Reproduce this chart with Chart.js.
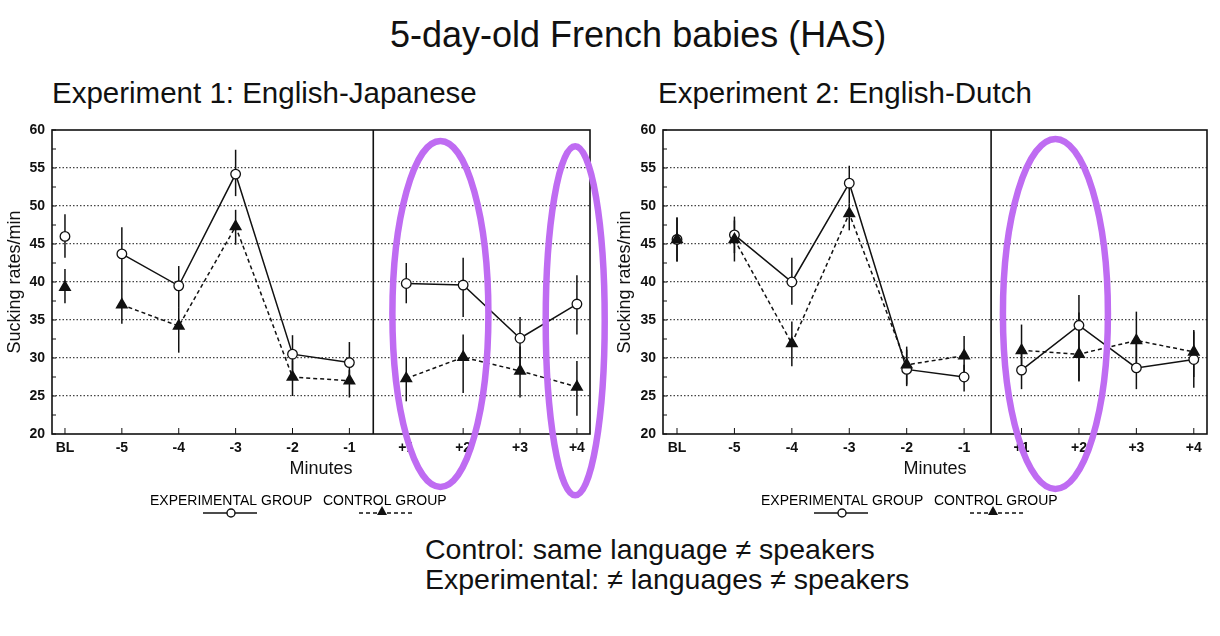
<!DOCTYPE html>
<html>
<head>
<meta charset="utf-8">
<script src="https://cdn.jsdelivr.net/npm/chart.js@4.4.1/dist/chart.umd.min.js"></script>
<style>
body { margin: 0; background: #fff; width: 1220px; height: 636px; overflow: hidden; position: relative; font-family: "Liberation Sans", Arial, sans-serif; color: #111; }
.txt { position: absolute; white-space: nowrap; line-height: 1; }
canvas { position: absolute; }
</style>
</head>
<body>
<div class="txt" style="left:390px;top:17px;font-size:36px">5-day-old French babies (HAS)</div>
<div class="txt" style="left:52px;top:78px;font-size:29.5px">Experiment 1: English-Japanese</div>
<div class="txt" style="left:658px;top:78px;font-size:29.5px">Experiment 2: English-Dutch</div>
<div class="txt" style="left:425px;top:535px;font-size:28.5px">Control: same language ≠ speakers</div>
<div class="txt" style="left:425px;top:565px;font-size:28.5px">Experimental: ≠ languages ≠ speakers</div>

<canvas id="chart1" width="620" height="420" style="left:0;top:110px"></canvas>
<canvas id="chart2" width="610" height="420" style="left:610px;top:110px"></canvas>

<script>
var minutes = ['BL', '-5', '-4', '-3', '-2', '-1', '+1', '+2', '+3', '+4'];

// Experiment 1: English-Japanese
var exp1Mean = [46.0, 43.7, 39.5, 54.2, 30.5, 29.4, 39.8, 39.6, 32.6, 37.1];
var exp1Low  = [43.2, 40.0, 36.7, 51.3, 28.0, 26.7, 37.2, 35.4, 28.8, 33.1];
var exp1High = [48.9, 47.2, 42.1, 57.4, 33.0, 32.1, 42.5, 43.2, 35.4, 40.9];
var ctl1Mean = [39.3, 37.0, 34.2, 47.3, 27.5, 27.0, 27.3, 30.1, 28.3, 26.2];
var ctl1Low  = [37.2, 34.5, 30.7, 44.9, 25.0, 24.8, 24.3, 25.4, 24.8, 22.4];
var ctl1High = [41.7, 40.1, 36.7, 49.5, 29.7, 28.4, 30.1, 33.1, 31.5, 29.6];

// Experiment 2: English-Dutch
var exp2Mean = [45.6, 46.2, 40.0, 53.0, 28.5, 27.5, 28.4, 34.3, 28.7, 29.8];
var exp2Low  = [42.7, 43.8, 37.0, 50.3, 26.3, 25.6, 25.9, 26.9, 25.9, 26.1];
var exp2High = [48.5, 48.6, 43.2, 55.3, 31.1, 29.1, 31.1, 38.3, 32.4, 33.7];
var ctl2Mean = [45.6, 45.6, 31.9, 49.0, 29.1, 30.3, 31.0, 30.5, 32.3, 30.8];
var ctl2Low  = [42.7, 42.7, 28.9, 46.8, 26.5, 27.6, 28.1, 27.0, 28.5, 27.5];
var ctl2High = [48.5, 48.1, 34.8, 50.3, 31.5, 32.9, 34.4, 36.0, 36.1, 33.5];

var ink = '#111';
var purple = '#bf6cf2';
var font = '"Liberation Sans", Arial, sans-serif';

function toPoints(arr) {
    return arr.map(function (v, i) { return { x: i, y: v }; });
}

// no line from BL to -5, nor across the divider
function gapColor(c) {
    return (c.p0DataIndex === 0 || c.p0DataIndex === 5) ? 'rgba(0,0,0,0)' : undefined;
}

var paperFrame = {
    id: 'paperFrame',
    beforeDatasetsDraw: function (chart, args, opts) {
        var ctx = chart.ctx, a = chart.chartArea;
        var xs = chart.scales.x, ys = chart.scales.y;
        ctx.save();
        ctx.strokeStyle = ink;
        ctx.lineWidth = 1.5;
        opts.bars.forEach(function (b) {
            for (var i = 0; i < b.low.length; i++) {
                var px = xs.getPixelForValue(i);
                ctx.beginPath();
                ctx.moveTo(px, ys.getPixelForValue(b.low[i]));
                ctx.lineTo(px, ys.getPixelForValue(b.high[i]));
                ctx.stroke();
            }
        });
        ctx.lineWidth = 1.6;
        ctx.strokeRect(a.left, a.top, a.right - a.left, a.bottom - a.top);
        var dx = xs.getPixelForValue(opts.divider);
        ctx.beginPath();
        ctx.moveTo(dx, a.top);
        ctx.lineTo(dx, a.bottom);
        ctx.stroke();
        // small inside ticks
        ctx.lineWidth = 1;
        for (var v = ys.min; v <= ys.max; v += 2.5) {
            var py = ys.getPixelForValue(v);
            ctx.beginPath();
            ctx.moveTo(a.left, py);
            ctx.lineTo(a.left + 4, py);
            ctx.stroke();
        }
        for (var j = 0; j < minutes.length; j++) {
            var tx = xs.getPixelForValue(j);
            ctx.beginPath();
            ctx.moveTo(tx, a.bottom);
            ctx.lineTo(tx, a.bottom - 6);
            ctx.stroke();
        }
        ctx.restore();
    },
    afterDraw: function (chart, args, opts) {
        var ctx = chart.ctx, a = chart.chartArea;
        var xs = chart.scales.x, ys = chart.scales.y;
        ctx.save();
        // legend under the axis
        var base = a.bottom + 71, ly = a.bottom + 79, l = a.left;
        ctx.fillStyle = '#000';
        ctx.strokeStyle = ink;
        ctx.font = '14px ' + font;
        ctx.textBaseline = 'alphabetic';
        ctx.fillText('EXPERIMENTAL GROUP', l + 98, base);
        ctx.fillText('CONTROL GROUP', l + 271, base);
        ctx.lineWidth = 1.4;
        ctx.beginPath();
        ctx.moveTo(l + 151, ly);
        ctx.lineTo(l + 205, ly);
        ctx.stroke();
        ctx.setLineDash([4, 3]);
        ctx.beginPath();
        ctx.moveTo(l + 307, ly);
        ctx.lineTo(l + 361, ly);
        ctx.stroke();
        ctx.setLineDash([]);
        ctx.fillStyle = '#fff';
        ctx.beginPath();
        ctx.arc(l + 179, ly, 4, 0, Math.PI * 2);
        ctx.fill();
        ctx.stroke();
        ctx.fillStyle = ink;
        ctx.beginPath();
        ctx.moveTo(l + 330, ly - 7);
        ctx.lineTo(l + 335, ly + 2);
        ctx.lineTo(l + 325, ly + 2);
        ctx.closePath();
        ctx.fill();
        // purple marks
        ctx.strokeStyle = purple;
        ctx.lineWidth = 6.5;
        opts.rings.forEach(function (r) {
            ctx.beginPath();
            ctx.ellipse(xs.getPixelForValue(r.x), ys.getPixelForValue(r.y), r.rx, r.ry, 0, 0, Math.PI * 2);
            ctx.stroke();
        });
        ctx.restore();
    }
};

function makeChart(id, expMean, expLow, expHigh, ctlMean, ctlLow, ctlHigh, look) {
    var ctx = document.getElementById(id).getContext('2d');
    return new Chart(ctx, {
        type: 'line',
        data: {
            datasets: [{
                label: 'CONTROL GROUP',
                data: toPoints(ctlMean),
                borderColor: ink,
                borderWidth: 1.5,
                borderDash: [4, 3],
                pointStyle: 'triangle',
                pointRadius: 6,
                pointBackgroundColor: ink,
                pointBorderColor: ink,
                segment: { borderColor: gapColor }
            }, {
                label: 'EXPERIMENTAL GROUP',
                data: toPoints(expMean),
                borderColor: ink,
                borderWidth: 1.5,
                pointStyle: 'circle',
                pointRadius: 4.8,
                pointBorderWidth: 1.3,
                pointBackgroundColor: '#fff',
                pointBorderColor: ink,
                segment: { borderColor: gapColor }
            }]
        },
        options: {
            responsive: false,
            animation: false,
            layout: { padding: { left: 0, right: look.padRight, top: 20, bottom: 0 } },
            plugins: {
                legend: { display: false },
                tooltip: { enabled: false },
                paperFrame: {
                    divider: look.divider,
                    rings: look.rings,
                    bars: [{ low: expLow, high: expHigh }, { low: ctlLow, high: ctlHigh }]
                }
            },
            scales: {
                x: {
                    type: 'linear',
                    min: look.xMin,
                    max: look.xMax,
                    afterBuildTicks: function (scale) {
                        scale.ticks = minutes.map(function (m, i) { return { value: i }; });
                    },
                    afterFit: function (scale) { scale.height = 96; },
                    grid: { display: false, drawTicks: false },
                    border: { display: false },
                    ticks: {
                        autoSkip: false,
                        maxRotation: 0,
                        padding: 6,
                        color: ink,
                        font: { family: font, size: 14, weight: 'bold' },
                        callback: function (v) { return minutes[v]; }
                    },
                    title: {
                        display: true,
                        text: 'Minutes',
                        color: ink,
                        font: { family: font, size: 18 },
                        padding: { top: 0, bottom: 50 }
                    }
                },
                y: {
                    min: 20,
                    max: 60,
                    afterFit: function (scale) { scale.width = look.yWidth; },
                    grid: {
                        drawTicks: false,
                        lineWidth: 1.2,
                        color: function (c) {
                            return (c.tick.value === 20 || c.tick.value === 60) ? 'rgba(0,0,0,0)' : '#444';
                        }
                    },
                    border: { display: false, dash: [1.5, 2] },
                    ticks: {
                        stepSize: 5,
                        padding: 7,
                        color: ink,
                        font: { family: font, size: 14, weight: 'bold' }
                    },
                    title: {
                        display: true,
                        text: 'Sucking rates/min',
                        color: ink,
                        font: { family: font, size: 18 },
                        padding: { top: 4, bottom: 0 }
                    }
                }
            }
        },
        plugins: [paperFrame]
    });
}

makeChart('chart1', exp1Mean, exp1Low, exp1High, ctl1Mean, ctl1Low, ctl1High, {
    padRight: 30, yWidth: 52, xMin: -0.228, xMax: 9.23, divider: 5.42,
    rings: [{ x: 6.6, y: 35.8, rx: 48, ry: 173 }, { x: 8.97, y: 34.9, rx: 29.5, ry: 174.5 }]
});

makeChart('chart2', exp2Mean, exp2Low, exp2High, ctl2Mean, ctl2Low, ctl2High, {
    padRight: 13, yWidth: 53, xMin: -0.244, xMax: 9.23, divider: 5.47,
    rings: [{ x: 6.59, y: 35.8, rx: 52.5, ry: 175 }]
});
</script>
</body>
</html>
